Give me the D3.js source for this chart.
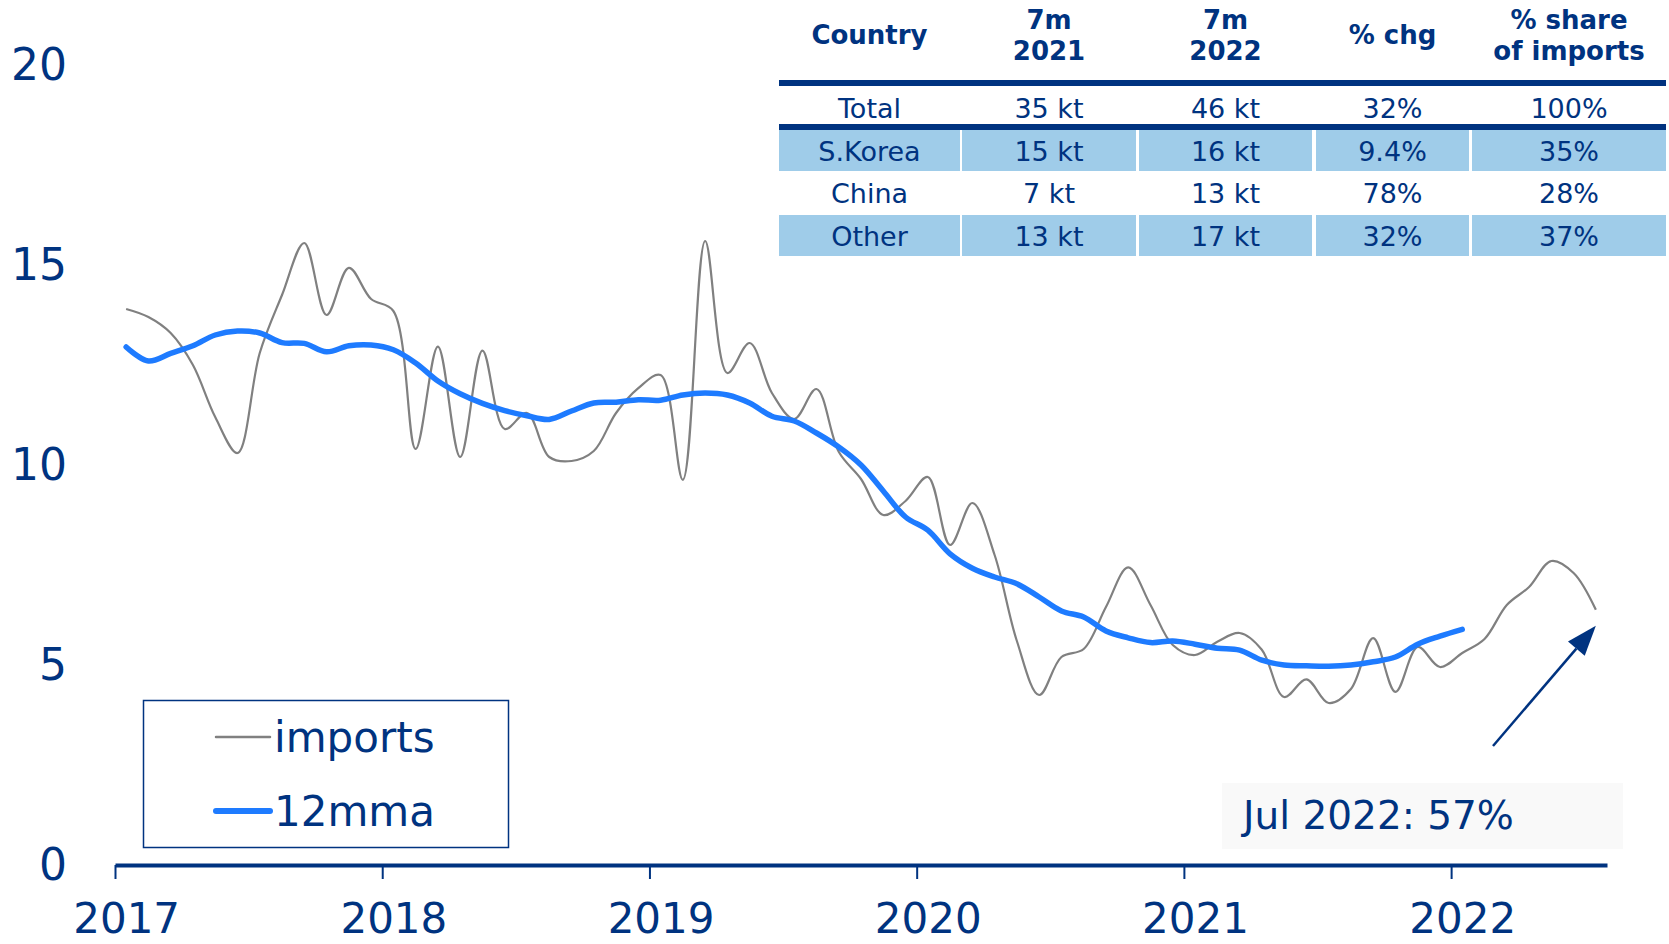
<!DOCTYPE html>
<html>
<head>
<meta charset="utf-8">
<script src="https://cdn.jsdelivr.net/npm/d3@7"></script>
<style>
  html, body { margin: 0; padding: 0; background: #fff; }
  svg { display: block; font-family: "DejaVu Sans", Verdana, sans-serif; }
</style>
</head>
<body>
<svg id="chart" width="1669" height="944"></svg>
<script>
// Monthly imports (kt), Jan 2017 – Jul 2022
const imports = [
  13.9, 13.7, 13.3, 12.5, 11.2, 10.3, 12.8, 14.25, 15.55, 13.75,
  14.93, 14.15, 13.85, 10.4, 12.96, 10.2, 12.86, 10.9, 11.3, 10.2,
  10.1, 10.35, 11.3, 11.92, 12.25, 9.63, 15.6, 12.3, 13.05, 11.8,
  11.15, 11.9, 10.33, 9.65, 8.75, 9.1, 9.7, 8.0, 9.05, 7.75,
  5.6, 4.25, 5.2, 5.4, 6.45, 7.44, 6.5, 5.5, 5.25, 5.58,
  5.8, 5.38, 4.2, 4.64, 4.05, 4.4, 5.67, 4.33, 5.45, 4.95,
  5.3, 5.65, 6.5, 6.95, 7.6, 7.3, 6.38
];

// 12-month moving average, Jan 2017 – Jan 2022
const mma12 = [
  12.95, 12.6, 12.79, 12.98, 13.25, 13.35, 13.3, 13.06, 13.04, 12.83,
  12.98, 13.0, 12.88, 12.55, 12.1, 11.78, 11.54, 11.36, 11.23, 11.14,
  11.35, 11.55, 11.57, 11.63, 11.62, 11.75, 11.8, 11.75, 11.55, 11.22,
  11.1, 10.8, 10.45, 10.0, 9.35, 8.7, 8.37, 7.78, 7.42, 7.2,
  7.03, 6.7, 6.35, 6.2, 5.85, 5.68, 5.56, 5.6, 5.52, 5.42,
  5.37, 5.12, 5.0, 4.98, 4.97, 5.0, 5.08, 5.2, 5.52, 5.72,
  5.89
];

const yearLabels = ["2017", "2018", "2019", "2020", "2021", "2022"];
const yTicks = [0, 5, 10, 15, 20];
const totalMonths = 67;

const seriesNames = ["imports", "12mma"];
const annotationText = "Jul 2022: 57%";

// Summary table
const tableHeader = [["Country"], ["7m", "2021"], ["7m", "2022"], ["% chg"], ["% share", "of imports"]];
const countries = ["Total", "S.Korea", "China", "Other"];
const kt2021 = [35, 15, 7, 13];
const kt2022 = [46, 16, 13, 17];
const pctChange = ["32%", "9.4%", "78%", "32%"];
const importShare = ["100%", "35%", "28%", "37%"];

const navy = "#003380";
const grey = "#808080";
const blue = "#1e7bff";
const rowFill = "#9fcce9";

const svg = d3.select("#chart");

const x = d3.scaleLinear().domain([0, totalMonths]).range([115, 1607]);
const y = d3.scaleLinear().domain([0, 20]).range([865, 65]);
const monthX = i => x(i + 0.5);

// y axis labels
const yAxis = d3.axisLeft(y).tickValues(yTicks).tickSize(0).tickPadding(3);
const gy = svg.append("g").attr("transform", "translate(70,0)").call(yAxis);
gy.select(".domain").remove();
gy.selectAll("text")
  .attr("fill", navy)
  .style("font-size", "44px")
  .style("font-family", "'DejaVu Sans', Verdana, sans-serif");

// lines
const line = d3.line()
  .x((d, i) => monthX(i))
  .y(d => y(d))
  .curve(d3.curveCatmullRom.alpha(0.5));

svg.append("path")
  .datum(imports)
  .attr("d", line)
  .attr("fill", "none")
  .attr("stroke", grey)
  .attr("stroke-width", 2.2);

svg.append("path")
  .datum(mma12)
  .attr("d", line)
  .attr("fill", "none")
  .attr("stroke", blue)
  .attr("stroke-width", 5.5)
  .attr("stroke-linecap", "round")
  .attr("stroke-linejoin", "round");

// x axis
const yearTicks = yearLabels.map((d, i) => i * 12);
const xAxis = d3.axisBottom(x)
  .tickValues(yearTicks)
  .tickSize(14)
  .tickSizeOuter(0)
  .tickFormat((d, i) => yearLabels[i]);
const gx = svg.append("g").attr("transform", `translate(0,${y(0)})`).call(xAxis);
gx.select(".domain").attr("stroke", navy).attr("stroke-width", 4);
gx.selectAll(".tick line").attr("stroke", navy).attr("stroke-width", 2);
gx.selectAll(".tick text")
  .attr("fill", navy)
  .attr("x", monthX(0) - x(0))
  .attr("y", 68)
  .attr("dy", 0)
  .style("font-size", "42px")
  .style("font-family", "'DejaVu Sans', Verdana, sans-serif");

// legend
const legend = svg.append("g");
legend.append("rect")
  .attr("x", 143.5).attr("y", 700.5)
  .attr("width", 365).attr("height", 147)
  .attr("fill", "#fff")
  .attr("stroke", navy)
  .attr("stroke-width", 1.5);
const legendItems = [
  { name: seriesNames[0], color: grey, width: 2.5, y: 737 },
  { name: seriesNames[1], color: blue, width: 6, y: 811 }
];
legend.selectAll("line.key")
  .data(legendItems)
  .join("line")
  .attr("class", "key")
  .attr("x1", 216).attr("x2", 270)
  .attr("y1", d => d.y).attr("y2", d => d.y)
  .attr("stroke", d => d.color)
  .attr("stroke-width", d => d.width)
  .attr("stroke-linecap", "round");
legend.selectAll("text")
  .data(legendItems)
  .join("text")
  .attr("x", 274)
  .attr("y", d => d.y + 15)
  .attr("fill", navy)
  .style("font-size", "42px")
  .text(d => d.name);

// annotation box and arrow
svg.append("rect")
  .attr("x", 1222).attr("y", 783)
  .attr("width", 401).attr("height", 66)
  .attr("fill", "#f9f9f9");
svg.append("text")
  .attr("x", 1243).attr("y", 829)
  .attr("fill", navy)
  .style("font-size", "39px")
  .text(annotationText);

const last = imports.length - 1;
const tip = [monthX(last), y(imports[last]) + 16];
const tail = [1493, 746];
const dx = tip[0] - tail[0], dy = tip[1] - tail[1];
const len = Math.hypot(dx, dy);
const ux = dx / len, uy = dy / len;
const headLen = 30, headHalf = 11;
const base = [tip[0] - ux * headLen, tip[1] - uy * headLen];
svg.append("line")
  .attr("x1", tail[0]).attr("y1", tail[1])
  .attr("x2", base[0]).attr("y2", base[1])
  .attr("stroke", navy)
  .attr("stroke-width", 2.5);
svg.append("path")
  .attr("d", `M${tip[0]},${tip[1]}L${base[0] - uy * headHalf},${base[1] + ux * headHalf}L${base[0] + uy * headHalf},${base[1] - ux * headHalf}Z`)
  .attr("fill", navy);

// table
const colLeft = [779, 962, 1139, 1316, 1472];
const colRight = [960, 1136, 1312, 1469, 1666];
const colCenter = colLeft.map((l, i) => (l + colRight[i]) / 2);
const tableLeft = colLeft[0], tableRight = colRight[colRight.length - 1];
const rowTop = [87, 130, 172.5, 215];
const rowH = 41;

const tableRows = countries.map((c, i) => [
  c, kt2021[i] + " kt", kt2022[i] + " kt", pctChange[i], importShare[i]
]);

const table = svg.append("g");

// shaded rows
tableRows.forEach((row, r) => {
  if (r % 2 === 1) {
    table.selectAll(null)
      .data(row)
      .join("rect")
      .attr("x", (d, c) => colLeft[c])
      .attr("y", rowTop[r])
      .attr("width", (d, c) => colRight[c] - colLeft[c])
      .attr("height", rowH)
      .attr("fill", rowFill);
  }
});

// header
table.selectAll("text.head")
  .data(tableHeader)
  .join("text")
  .attr("class", "head")
  .attr("text-anchor", "middle")
  .attr("fill", navy)
  .style("font-size", "26px")
  .style("font-weight", "bold")
  .each(function (lines, c) {
    const t = d3.select(this);
    const ys = lines.length === 1 ? [44] : [29, 60];
    lines.forEach((s, k) => {
      t.append("tspan").attr("x", colCenter[c]).attr("y", ys[k]).text(s);
    });
  });

// rules under header and total row
table.selectAll("line.rule")
  .data([83, 127])
  .join("line")
  .attr("class", "rule")
  .attr("x1", tableLeft).attr("x2", tableRight)
  .attr("y1", d => d).attr("y2", d => d)
  .attr("stroke", navy)
  .attr("stroke-width", 6);

// body text
tableRows.forEach((row, r) => {
  table.selectAll(null)
    .data(row)
    .join("text")
    .attr("x", (d, c) => colCenter[c])
    .attr("y", rowTop[r] + 30.5)
    .attr("text-anchor", "middle")
    .attr("fill", navy)
    .style("font-size", "27px")
    .text(d => d);
});
</script>
</body>
</html>
